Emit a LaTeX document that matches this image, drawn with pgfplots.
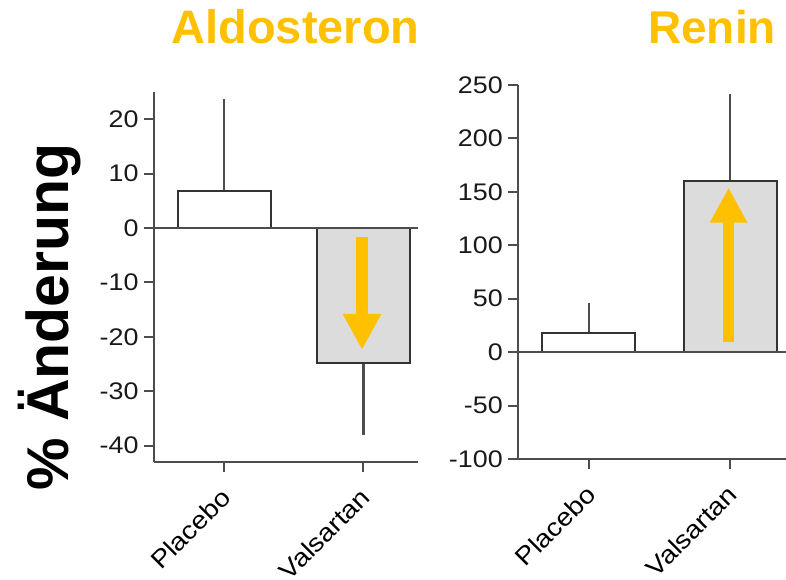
\documentclass[border=0pt]{standalone}
\usepackage{fontspec}
\setmainfont{Liberation Sans}
\newfontfamily\tickfont[FakeStretch=1.12]{Liberation Sans}
\usepackage{pgfplots}
\pgfplotsset{compat=1.18}
\usetikzlibrary{arrows.meta}
\definecolor{axgray}{HTML}{4D4D4D}
\definecolor{baredge}{HTML}{333333}
\definecolor{barfill}{HTML}{DCDCDC}
\definecolor{aorange}{HTML}{FFC000}
\pgfplotsset{
 panel/.style={
  scale only axis,
  axis x line*=bottom, axis y line*=left,
  axis line style={axgray, line width=2.2pt, -},
  tick style={axgray, line width=2pt},
  major tick length=10pt,
  tick align=outside,
  xtick={0,1}, xticklabels={Placebo,Valsartan},
  xticklabel style={rotate=45, anchor=north east, font=\tickfont\fontsize{25}{28}\selectfont, inner sep=2pt, yshift=-5pt, xshift=-11pt},
  yticklabel style={font=\tickfont\fontsize{24}{28}\selectfont, text=black!90, xshift=-2pt},
  /pgf/number format/assume math mode=true,
  clip=false,
 },
 mybar/.style={ybar, bar width=93pt, bar shift=0pt, draw=baredge, line width=2pt},
 errline/.style={axgray, line width=2.6pt, mark=none},
}
\begin{document}
\begin{tikzpicture}
\useasboundingbox (0,0) rectangle (786pt,580pt);
% left panel: Aldosteron
\begin{axis}[panel, at={(154pt,118pt)}, anchor=south west,
  width=264pt, height=370pt,
  xmin=-0.504, xmax=1.392, ymin=-43, ymax=25,
  ytick={-40,-30,-20,-10,0,10,20}]
% error bars (mean -> mean +/- SE)
\addplot[errline] coordinates {(0,6.8) (0,23.8)};
\addplot[errline] coordinates {(1,-24.8) (1,-38.1)};
% bars
\addplot[mybar, fill=white] coordinates {(0,6.8)};
\addplot[mybar, fill=barfill] coordinates {(1,-24.8)};
\draw[axgray, line width=2.2pt] (axis cs:-0.504,0) -- (axis cs:1.392,0);
\draw[aorange, line width=12pt, -{Triangle[width=36pt,length=36pt]}] (axis cs:0.99,-1.7) -- (axis cs:0.99,-22.4);
\end{axis}
% right panel: Renin
\begin{axis}[panel, at={(518.3pt,121pt)}, anchor=south west,
  width=267.7pt, height=374pt,
  xmin=-0.501, xmax=1.397, ymin=-100, ymax=250,
  ytick={-100,-50,0,50,100,150,200,250}]
\addplot[errline] coordinates {(0,18.2) (0,46.3)};
\addplot[errline] coordinates {(1,160) (1,242)};
\addplot[mybar, fill=white] coordinates {(0,18.2)};
\addplot[mybar, fill=barfill] coordinates {(1,160)};
\draw[axgray, line width=2.2pt] (axis cs:-0.501,0) -- (axis cs:1.397,0);
\draw[aorange, line width=11.6pt, -{Triangle[width=35pt,length=35pt]}] (axis cs:0.99,9.4) -- (axis cs:0.99,154);
\end{axis}
\node[anchor=base, text=aorange, font=\bfseries\fontsize{47}{50}\selectfont] at (295.5pt,536.7pt) {Aldosteron};
\node[anchor=base, text=aorange, font=\bfseries\fontsize{46}{50}\selectfont] at (712pt,536.7pt) {Renin};
\node[anchor=base, rotate=90, font=\bfseries\fontsize{59}{62}\selectfont] at (68pt,263pt) {\% Änderung};
\end{tikzpicture}
\end{document}
